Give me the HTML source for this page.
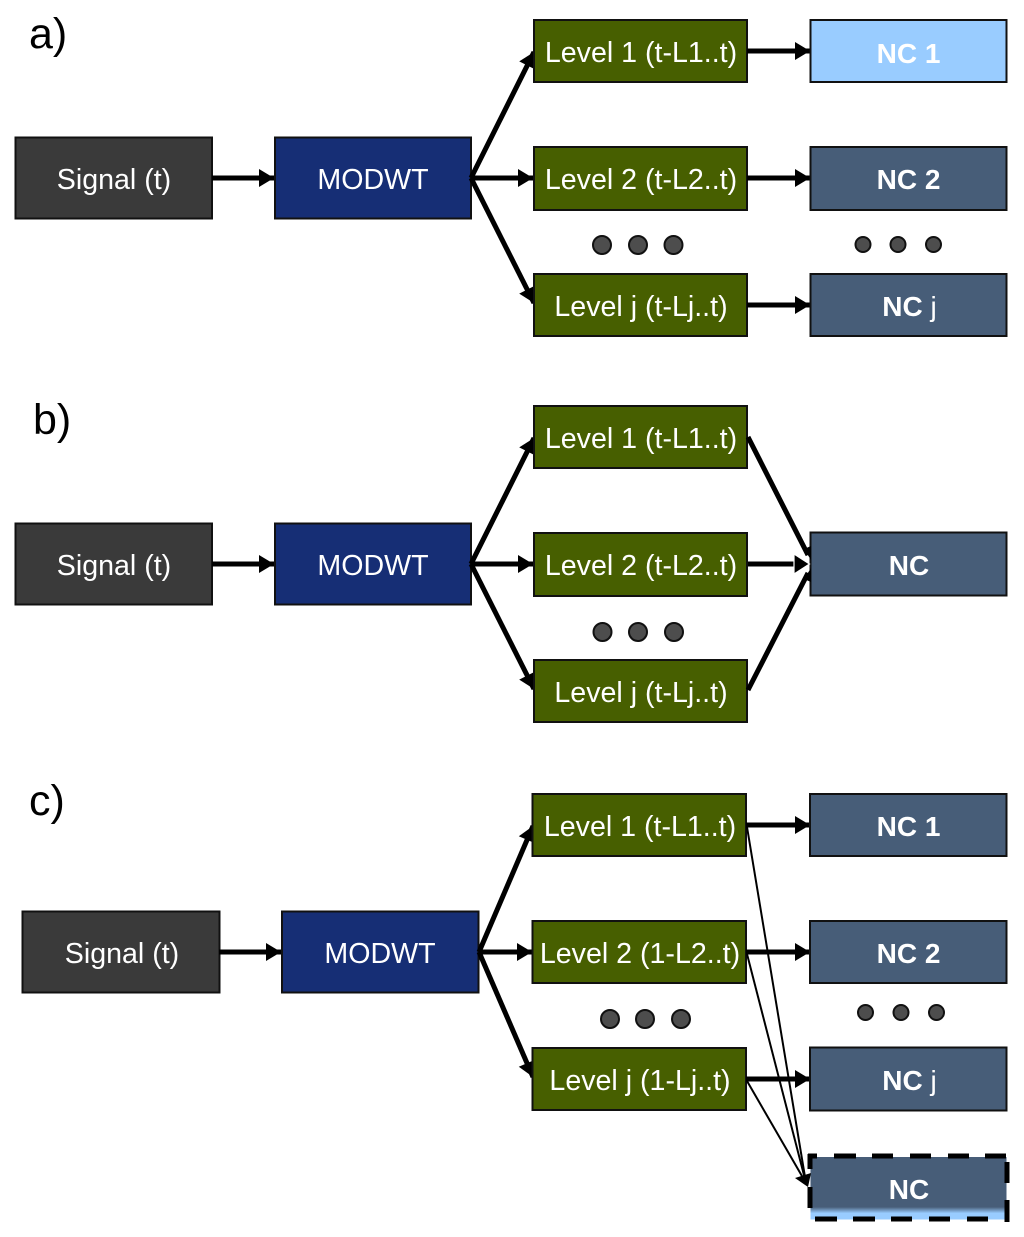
<!DOCTYPE html>
<html><head><meta charset="utf-8"><style>
html,body{margin:0;padding:0;background:#fff}
svg{display:block;filter:blur(0.35px)}
text{font-family:"Liberation Sans",sans-serif;font-size:28.6px;fill:#fff;text-anchor:middle}
.b{font-weight:bold;font-size:28px}
.r{font-weight:normal}
.h{font-size:43px;fill:#000;text-anchor:start}
.g{fill:#3a3a3a}.m{fill:#162e75}.l{fill:#475f00}.n{fill:#475d78}
rect{stroke:#111;stroke-width:2}
.a{stroke:#000;stroke-width:5;fill:none;marker-end:url(#ar)}
.t{stroke:#000;stroke-width:2;fill:none}
circle{fill:#4d4d4d;stroke:#111;stroke-width:2}
</style></head><body>
<svg width="1024" height="1237" viewBox="0 0 1024 1237" xmlns="http://www.w3.org/2000/svg">
<defs>
<marker id="ar" markerUnits="userSpaceOnUse" markerWidth="18" markerHeight="20" refX="16" refY="10" orient="auto"><path d="M1 1L16 10L1 19Z" fill="#000"/></marker>
<linearGradient id="nc" x1="0" y1="0" x2="0" y2="1"><stop offset="0.8" stop-color="#475d78"/><stop offset="0.9" stop-color="#99ccff"/></linearGradient>
</defs>

<text class="h" x="29" y="48">a)</text>
<rect class="g" x="15.5" y="137.5" width="196.5" height="81"/><text x="114" y="189">Signal (t)</text>
<rect class="m" x="275" y="137.5" width="196" height="81"/><text x="373" y="189">MODWT</text>
<path class="a" d="M212 178H274"/>
<path class="a" d="M471 178L534 52"/><path class="a" d="M471 178H533"/><path class="a" d="M471 178L534 303"/>
<rect class="l" x="534" y="20" width="213" height="62"/><text x="641" y="62">Level 1 (t-L1..t)</text>
<rect class="l" x="534" y="147" width="213" height="63"/><text x="641" y="189">Level 2 (t-L2..t)</text>
<rect class="l" x="534" y="274" width="213" height="62"/><text x="641" y="316">Level j (t-Lj..t)</text>
<path class="a" d="M747 51H810"/><path class="a" d="M747 178H810"/><path class="a" d="M747 305H810"/>
<rect x="810.5" y="20" width="196" height="62" fill="#99ccff"/><text class="b" x="908.500" y="63">NC 1</text>
<rect class="n" x="810.5" y="147" width="196" height="63"/><text class="b" x="908.500" y="189">NC 2</text>
<rect class="n" x="810.5" y="274" width="196" height="62"/><text class="b" x="909.500" y="316">NC <tspan class="r">j</tspan></text>
<circle cx="602" cy="245" r="9"/><circle cx="638" cy="245" r="9"/><circle cx="673.5" cy="245" r="9"/>
<circle cx="863" cy="244.500" r="7.500"/><circle cx="898" cy="244.500" r="7.500"/><circle cx="933.500" cy="244.500" r="7.500"/>

<text class="h" x="33" y="434">b)</text>
<rect class="g" x="15.5" y="523.500" width="196.500" height="81"/><text x="114" y="575">Signal (t)</text>
<rect class="m" x="275" y="523.500" width="196" height="81"/><text x="373" y="575">MODWT</text>
<path class="a" d="M212 564H274"/>
<path class="a" d="M471 564L534 438"/><path class="a" d="M471 564H533"/><path class="a" d="M471 564L534 689"/>
<rect class="l" x="534" y="406" width="213" height="62"/><text x="641" y="448">Level 1 (t-L1..t)</text>
<rect class="l" x="534" y="533" width="213" height="63"/><text x="641" y="575">Level 2 (t-L2..t)</text>
<rect class="l" x="534" y="660" width="213" height="62"/><text x="641" y="702">Level j (t-Lj..t)</text>
<path d="M748 437L808 555M748 690L808 573" stroke="#000" stroke-width="5" fill="none"/>
<path d="M748 564H798" stroke="#000" stroke-width="5" fill="none"/>
<rect class="n" x="810.5" y="532.500" width="196" height="63"/><text class="b" x="909" y="575">NC</text>
<path d="M804 549L811 546L811 560ZM804 579L811 582L811 568Z" fill="#000"/>
<path d="M794 554L809.500 564L794 574Z" fill="#000" stroke="#fff" stroke-width="1.200"/>
<circle cx="602.500" cy="632" r="9"/><circle cx="638" cy="632" r="9"/><circle cx="674" cy="632" r="9"/>

<text class="h" x="29" y="815">c)</text>
<rect class="g" x="22.500" y="911.500" width="197" height="81"/><text x="122" y="963">Signal (t)</text>
<rect class="m" x="282" y="911.500" width="196.500" height="81"/><text x="380" y="963">MODWT</text>
<path class="a" d="M219 952H281"/>
<path class="a" d="M479 952L533 826"/><path class="a" d="M479 952H532"/><path class="a" d="M479 952L533 1077"/>
<rect class="l" x="532.500" y="794" width="213.500" height="62"/><text x="640" y="836">Level 1 (t-L1..t)</text>
<rect class="l" x="532.500" y="921" width="213.500" height="62"/><text x="640" y="963">Level 2 (1-L2..t)</text>
<rect class="l" x="532.500" y="1048" width="213.500" height="62"/><text x="640" y="1090">Level j (1-Lj..t)</text>
<path class="a" d="M746 825H810"/><path class="a" d="M746 952H810"/><path class="a" d="M746 1079H810"/>
<rect class="n" x="810" y="794" width="196.500" height="62"/><text class="b" x="908.500" y="836">NC 1</text>
<rect class="n" x="810" y="921" width="196.500" height="62"/><text class="b" x="908.500" y="963">NC 2</text>
<rect class="n" x="810" y="1047.500" width="196.500" height="63"/><text class="b" x="909.500" y="1090">NC <tspan class="r">j</tspan></text>
<circle cx="610" cy="1019" r="9"/><circle cx="645" cy="1019" r="9"/><circle cx="681" cy="1019" r="9"/>
<circle cx="865.500" cy="1012.500" r="7.500"/><circle cx="901" cy="1012.500" r="7.500"/><circle cx="936.500" cy="1012.500" r="7.500"/>
<path class="t" d="M747 827L806 1183"/><path class="t" d="M747 954L806 1183"/><path class="t" d="M747 1081L806 1183"/>
<rect x="810.500" y="1157" width="196" height="62.500" fill="url(#nc)" style="stroke:none"/>
<path d="M795 1178L811 1173L808 1187Z" fill="#000"/>
<path d="M808 1156H817M834 1156H856M872 1156H893M910 1156H931M948 1156H969M985 1156H1006M1007 1162V1183M1007 1200V1222M1007 1219H1005M988 1219H967M950 1219H929M912 1219H891M875 1219H853M837 1219H815M810 1208V1187M810 1169V1154" stroke="#000" stroke-width="5" fill="none"/>
<text class="b" x="909" y="1199">NC</text>
</svg>
</body></html>
